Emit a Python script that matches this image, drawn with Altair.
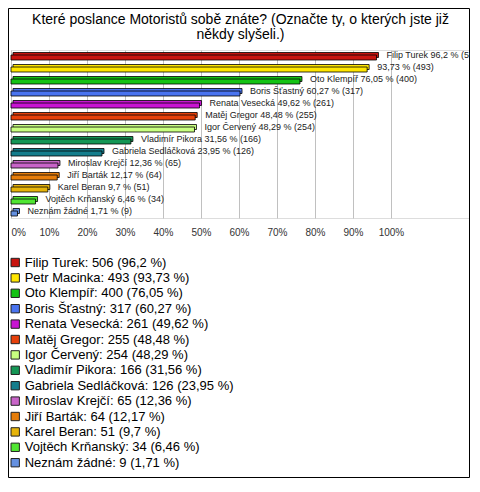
import altair as alt
import pandas as pd

names = ["Filip Turek", "Petr Macinka", "Oto Klempíř", "Boris Šťastný", "Renata Vesecká",
         "Matěj Gregor", "Igor Červený", "Vladimír Pikora", "Gabriela Sedláčková",
         "Miroslav Krejčí", "Jiří Barták", "Karel Beran", "Vojtěch Krňanský", "Neznám žádné"]
counts = [506, 493, 400, 317, 261, 255, 254, 166, 126, 65, 64, 51, 34, 9]
pcts = [96.2, 93.73, 76.05, 60.27, 49.62, 48.48, 48.29, 31.56, 23.95, 12.36, 12.17, 9.7, 6.46, 1.71]
pct_text = ["96,2", "93,73", "76,05", "60,27", "49,62", "48,48", "48,29", "31,56", "23,95",
            "12,36", "12,17", "9,7", "6,46", "1,71"]
bar_names = ["Filip Turek", "", "Oto Klempíř", "Boris Šťastný", "Renata Vesecká",
             "Matěj Gregor", "Igor Červený", "Vladimír Pikora", "Gabriela Sedláčková",
             "Miroslav Krejčí", "Jiří Barták", "Karel Beran", "Vojtěch Krňanský", "Neznám žádné"]
colors = ["#c8140f", "#ffe600", "#14c314", "#4a74f0", "#c814d2", "#e6400a", "#c8ff80",
          "#149655", "#147d8c", "#c864c8", "#e67d0a", "#e6b40a", "#50e632", "#6490e0"]
ticks = [0, 0.1, 0.2, 0.3, 0.4, 0.5, 0.6, 0.7, 0.8, 0.9, 1.0]
title_lines = ["Které poslance Motoristů sobě znáte? (Označte ty, o kterých jste již",
               "někdy slyšeli.)"]

bar_labels = [(n + " " if n else "") + f"{p} % ({c})" for n, p, c in zip(bar_names, pct_text, counts)]
legend_labels = [f"{n}: {c} ({p} %)" for n, p, c in zip(names, pct_text, counts)]

df = pd.DataFrame({
    "name": names,
    "pct": [p / 100 for p in pcts],
    "bar_label": bar_labels,
    "legend": legend_labels,
})

x = alt.X("pct:Q",
          scale=alt.Scale(domain=[0, 1.208], nice=False, zero=True),
          axis=alt.Axis(values=ticks, format="%", title=None, domain=False, ticks=False,
                        grid=True, gridColor="#c0c0c0", gridWidth=1,
                        labelFontSize=10, labelColor="#333333", labelPadding=9,
                        labelFlush=True, labelFont="Liberation Sans"))
y = alt.Y("name:N", sort=names, scale=alt.Scale(paddingInner=0, paddingOuter=0), axis=None)
color = alt.Color("legend:N",
                  scale=alt.Scale(domain=legend_labels, range=colors),
                  legend=alt.Legend(title=None, orient="none", legendX=-2.3, legendY=206,
                                    direction="vertical", symbolType="square", symbolSize=70,
                                    symbolStrokeColor="#222222", symbolStrokeWidth=1,
                                    labelFontSize=13, labelColor="black",
                                    labelFont="Liberation Sans", labelOffset=3,
                                    rowPadding=1.4, padding=0, labelLimit=400))

border = alt.Chart(alt.Data(values=[{"a": 1}])).mark_rect(
    fillOpacity=0, stroke="black", strokeWidth=1
).encode(x=alt.value(-2.5), x2=alt.value(458.5), y=alt.value(-41.5), y2=alt.value(427.5))

title_df = pd.DataFrame({"line": title_lines, "ypos": [-30, -15]})
title = alt.Chart(title_df).mark_text(
    align="center", baseline="middle", fontSize=14, color="black", font="Liberation Sans"
).encode(x=alt.value(229.5), y=alt.Y("ypos:Q", scale=None), text="line:N")

back = alt.Chart(df).mark_bar(size=5, xOffset=2, yOffset=-1, stroke="black", strokeWidth=0.8).encode(
    x=x, y=y, color=color)
front = alt.Chart(df).mark_bar(size=5, yOffset=1.5, stroke="black", strokeWidth=0.8).encode(
    x=x, y=y, color=color)
text = alt.Chart(df).mark_text(align="left", baseline="middle", dx=10, dy=-1, fontSize=9,
                               color="#222222", font="Liberation Sans").encode(
    x=x, y=y, text="bar_label:N")

chart = alt.layer(border, title, back, front, text).properties(
    width=459, height=168,
    padding={"left": 3, "top": 42, "right": 0, "bottom": 260},
    autosize="none",
).configure_view(stroke="black", strokeWidth=1.5).configure(background="white")

chart.save("out.html", embed_options={"renderer": "svg", "actions": False})
